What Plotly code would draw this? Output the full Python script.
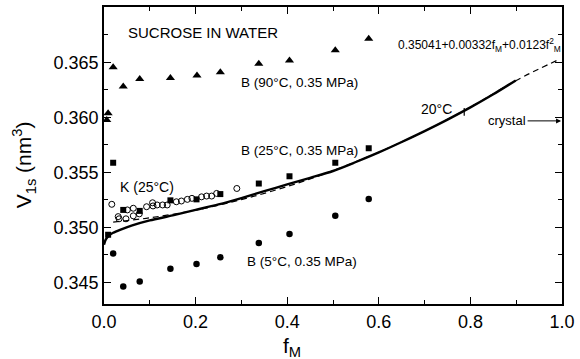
import plotly.graph_objects as go

# ---- data ----
tri_f = [0.006, 0.009, 0.020, 0.042, 0.078, 0.145, 0.203, 0.254, 0.338, 0.405, 0.505, 0.578]
tri_v = [0.35977, 0.36038, 0.36455, 0.36281, 0.36350, 0.36359, 0.36380, 0.36410, 0.36488, 0.36518, 0.36611, 0.36716]

sq_f = [0.009, 0.020, 0.042, 0.078, 0.145, 0.202, 0.254, 0.338, 0.405, 0.505, 0.578]
sq_v = [0.34932, 0.35587, 0.35158, 0.35149, 0.35245, 0.35254, 0.35302, 0.35398, 0.35464, 0.35587, 0.35719]

dot_f = [0.020, 0.042, 0.078, 0.145, 0.202, 0.254, 0.338, 0.405, 0.505, 0.578]
dot_v = [0.34761, 0.34461, 0.34506, 0.34623, 0.34665, 0.34728, 0.34858, 0.34939, 0.35104, 0.35257]

k_f = [0.017, 0.031, 0.033, 0.048, 0.051, 0.064, 0.064, 0.077, 0.093, 0.106, 0.107, 0.116,
       0.128, 0.138, 0.158, 0.169, 0.182, 0.192, 0.213, 0.224, 0.235, 0.246, 0.290]
k_v = [0.35209, 0.35097, 0.35077, 0.35077, 0.35158, 0.35173, 0.35104, 0.35122, 0.35187, 0.35223, 0.35194, 0.35203,
       0.35203, 0.35203, 0.35232, 0.35239, 0.35254, 0.35263, 0.35277, 0.35284, 0.35284, 0.35308, 0.35353]

curve_f = [0.0, 0.004, 0.011, 0.020, 0.035, 0.060, 0.100, 0.150, 0.200, 0.250, 0.300, 0.350, 0.400,
           0.450, 0.500, 0.550, 0.600, 0.650, 0.700, 0.750, 0.800, 0.850, 0.899]
curve_v = [0.34842, 0.34890, 0.34925, 0.34950, 0.34977, 0.35015, 0.35062, 0.35108, 0.35158, 0.35208, 0.35266,
           0.35328, 0.35390, 0.35450, 0.35512, 0.35594, 0.35681, 0.35776, 0.35875, 0.35980, 0.36091, 0.36210, 0.36336]

fit_f = [0.02, 0.10, 0.20, 0.30, 0.40, 0.50, 0.60, 0.70, 0.80, 0.90, 0.995]
fit_v = [0.35047, 0.35086, 0.35156, 0.35252, 0.35371, 0.35515, 0.35683, 0.35875, 0.36093, 0.36336, 0.36530]

crystal_v = 0.35968

FONT = "Liberation Sans, Arial, Helvetica, sans-serif"

fig = go.Figure()
fig.add_trace(go.Scatter(x=fit_f, y=fit_v, mode="lines",
                         line=dict(color="black", width=1.2, dash="6px,4px", shape="spline")))
fig.add_trace(go.Scatter(x=curve_f, y=curve_v, mode="lines",
                         line=dict(color="black", width=2.4, shape="spline", smoothing=0.8)))
fig.add_trace(go.Scatter(x=tri_f, y=tri_v, mode="markers",
                         marker=dict(symbol="triangle-up", size=8, color="black")))
fig.add_trace(go.Scatter(x=sq_f, y=sq_v, mode="markers",
                         marker=dict(symbol="square", size=6, color="black")))
fig.add_trace(go.Scatter(x=dot_f, y=dot_v, mode="markers",
                         marker=dict(symbol="circle", size=6.5, color="black")))
fig.add_trace(go.Scatter(x=k_f, y=k_v, mode="markers",
                         marker=dict(symbol="circle-open", size=6, color="black", line=dict(width=1))))

# short mark on the 20 C curve
fig.add_shape(type="line", x0=0.7865, x1=0.7865, y0=0.36014, y1=0.36086,
              line=dict(color="black", width=1.2))

axis_common = dict(showline=True, linecolor="black", linewidth=1.6, mirror="ticks",
                   ticks="inside", ticklen=7, tickwidth=1.3, tickcolor="black",
                   showgrid=False, zeroline=False,
                   tickfont=dict(family=FONT, size=18, color="black"))

fig.update_xaxes(range=[0, 1.0], tickvals=[0.0, 0.2, 0.4, 0.6, 0.8, 1.0],
                 ticktext=["0.0", "0.2", "0.4", "0.6", "0.8", "1.0"],
                 minor=dict(dtick=0.1, ticks="inside", ticklen=4, tickwidth=1.2, tickcolor="black"),
                 ticklabelstandoff=1,
                 **axis_common)
fig.update_yaxes(range=[0.34302, 0.37004], tickvals=[0.345, 0.350, 0.355, 0.360, 0.365],
                 ticktext=["0.345", "0.350", "0.355", "0.360", "0.365"],
                 minor=dict(dtick=0.0025, tick0=0.345, ticks="inside", ticklen=4, tickwidth=1.2, tickcolor="black"),
                 ticklabelstandoff=0,
                 **axis_common)

def txt(x, y, s, size, xanchor="left"):
    fig.add_annotation(x=x, y=y, xref="x", yref="y", text=s, showarrow=False,
                       xanchor=xanchor, yanchor="middle",
                       font=dict(family=FONT, size=size, color="black"))

txt(0.048, 0.3677, "SUCROSE IN WATER", 15)
txt(0.294, 0.3632, "B (90°C, 0.35 MPa)", 13.5)
txt(0.294, 0.35698, "B (25°C, 0.35 MPa)", 13.5)
txt(0.0305, 0.35365, "K (25°C)", 14)
txt(0.307, 0.34689, "B (5°C, 0.35 MPa)", 13.5)
txt(0.688, 0.36077, "20°C", 14)
txt(0.834, crystal_v, "crystal", 13)
txt(0.638, 0.36662, "0.35041+0.00332f<sub>M</sub>+0.0123f<sup>2</sup><sub>M</sub>", 12)

fig.add_annotation(x=0.998, y=crystal_v, ax=0.9216, ay=crystal_v, xref="x", yref="y",
                   axref="x", ayref="y", text="", showarrow=True, arrowhead=2,
                   arrowsize=1, arrowwidth=1, arrowcolor="black")

# axis titles
fig.add_annotation(x=-0.175, y=0.47, xref="paper", yref="paper", text="V<sub>1s</sub> (nm<sup>3</sup>)",
                   textangle=-90, showarrow=False, xanchor="center", yanchor="middle",
                   font=dict(family=FONT, size=21, color="black"))
fig.add_annotation(x=0.41, y=-0.145, xref="paper", yref="paper", text="f<sub>M</sub>",
                   showarrow=False, xanchor="center", yanchor="middle",
                   font=dict(family=FONT, size=21, color="black"))

fig.update_layout(width=580, height=359, margin=dict(l=104, r=17, t=5, b=55),
                  plot_bgcolor="white", paper_bgcolor="white", showlegend=False)

fig.write_html("out.html")
